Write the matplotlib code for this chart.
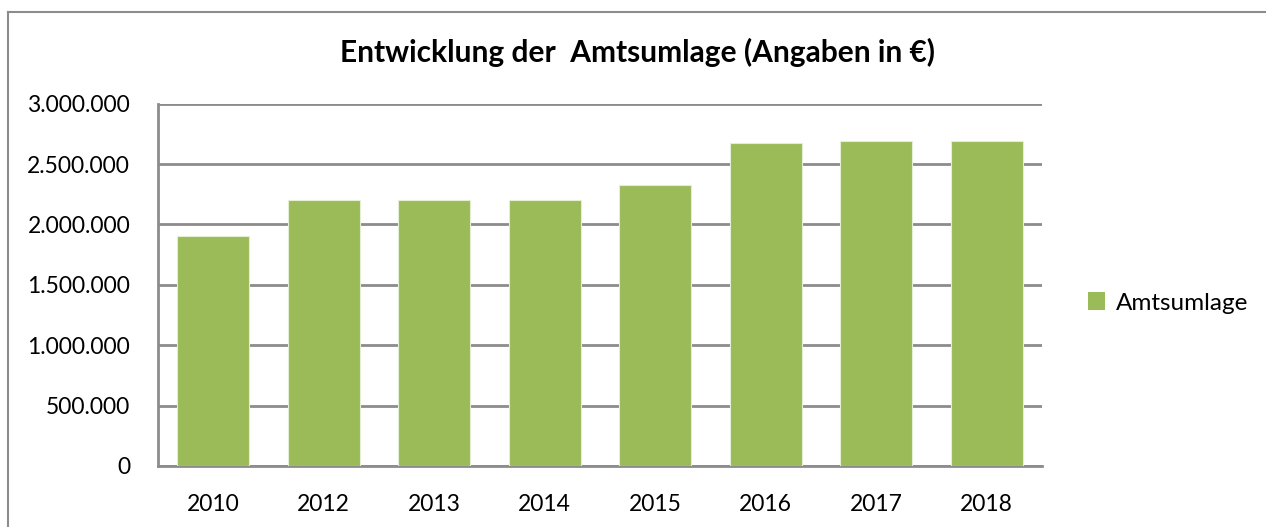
import matplotlib
matplotlib.use("Agg")
import matplotlib.pyplot as plt
from matplotlib.ticker import FuncFormatter
from matplotlib.lines import Line2D
from matplotlib.patches import Patch

years = ["2010", "2012", "2013", "2014", "2015", "2016", "2017", "2018"]
amtsumlage = [1905000, 2200000, 2200000, 2200000, 2329000, 2677000, 2694000, 2694000]
series_name = "Amtsumlage"
title = "Entwicklung der  Amtsumlage (Angaben in €)"
yticks = [0, 500000, 1000000, 1500000, 2000000, 2500000, 3000000]

plt.rcParams['font.family'] = ['Lato', 'DejaVu Sans']
W, H = 1266, 527
fig = plt.figure(figsize=(W / 100, H / 100), dpi=100)
ax = fig.add_axes([158 / W, 1 - 466 / H, (1042 - 158) / W, (466 - 103.7) / H])

green = "#9BBB59"
x = range(len(years))
ax.bar(x, amtsumlage, width=0.65, color=green, edgecolor="#E4EED3", linewidth=0.8, zorder=3)
ax.set_xlim(-0.5, len(years) - 0.5)
ax.set_ylim(0, 3000000)
ax.set_yticks(yticks)
ax.yaxis.set_major_formatter(FuncFormatter(lambda v, p: f"{int(v):,}".replace(",", ".")))
ax.set_xticks(list(x))
ax.set_xticklabels(years)
ax.tick_params(axis="both", length=0, labelsize=16.5, colors="black")
ax.tick_params(axis="y", pad=20)
ax.tick_params(axis="x", pad=20)
ax.grid(axis="y", color="#8C8C8C", linewidth=2, zorder=0)
for s in ["top", "right"]:
    ax.spines[s].set_visible(False)
for s in ["left", "bottom"]:
    ax.spines[s].set_color("#8C8C8C")
    ax.spines[s].set_linewidth(2)

fig.text(638 / W, 1 - 52 / H, title, ha="center", va="center", fontsize=21.5, fontweight="bold")

# legend
handle = Patch(facecolor=green, edgecolor="none")
fig.legend([handle], [series_name], loc="center left", bbox_to_anchor=(1066 / W, 1 - 303 / H),
           frameon=False, fontsize=17.5, handlelength=0.7, handleheight=0.7, handletextpad=0.45)

# outer chart border
fig.add_artist(Line2D([8 / W, 8 / W], [0, 1 - 12 / H], transform=fig.transFigure, color="#8C8C8C", linewidth=1.5))
fig.add_artist(Line2D([8 / W, 1], [1 - 12 / H, 1 - 12 / H], transform=fig.transFigure, color="#8C8C8C", linewidth=1.5))

fig.savefig("out.png", dpi=100, facecolor="white")
